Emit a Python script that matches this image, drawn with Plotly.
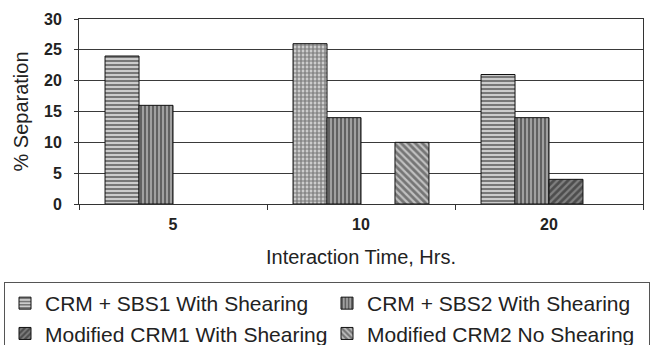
import plotly.graph_objects as go

categories = ["5", "10", "20"]
sbs1 = [24, 26, 21]
sbs2 = [16, 14, 14]
mod_crm1 = [None, None, 4]
mod_crm2 = [None, 10, None]
series_names = [
    "CRM + SBS1 With Shearing",
    "CRM + SBS2 With Shearing",
    "Modified CRM1 With Shearing",
    "Modified CRM2 No Shearing",
]
y_ticks = [0, 5, 10, 15, 20, 25, 30]

FONT = "Liberation Sans, Arial, sans-serif"

styles = [
    dict(shape=["-", "+", "-"], fg="#222222", bg="#cccccc", size=4, solidity=0.5),
    dict(shape="|", fg="#222222", bg="#a0a0a0", size=4, solidity=0.5),
    dict(shape="/", fg="#1a1a1a", bg="#808080", size=5, solidity=0.55),
    dict(shape="\\", fg="#2a2a2a", bg="#c0c0c0", size=5, solidity=0.55),
]

fig = go.Figure()
for name, vals, st in zip(series_names, [sbs1, sbs2, mod_crm1, mod_crm2], styles):
    fig.add_trace(go.Bar(
        x=categories, y=vals, name=name,
        marker=dict(
            color=st["bg"],
            line=dict(color="#111111", width=1),
            pattern=dict(shape=st["shape"], fgcolor=st["fg"], bgcolor=st["bg"],
                         size=st["size"], solidity=st["solidity"], fillmode="overlay"),
        ),
    ))

W, H = 652, 345
ML, MR, MT, MB = 79, 9, 19, 141
PW, PH = W - ML - MR, H - MT - MB

fig.update_layout(
    width=W, height=H,
    margin=dict(l=ML, r=MR, t=MT, b=MB, autoexpand=False),
    paper_bgcolor="white", plot_bgcolor="white",
    barmode="group", bargap=0.277, bargroupgap=0,
    font=dict(family=FONT, color="#222222"),
    xaxis=dict(
        type="category",
        showline=True, linecolor="#333333", linewidth=1, mirror=True,
        ticks="outside", tickson="boundaries", ticklen=5, tickcolor="#333333",
        ticklabelstandoff=6,
        tickfont=dict(size=16, family=FONT, weight="bold", color="#222222"),
        title=dict(text="Interaction Time, Hrs.", font=dict(size=20, family=FONT), standoff=17),
        showgrid=False,
    ),
    yaxis=dict(
        range=[0, 30], tickvals=y_ticks,
        showline=True, linecolor="#333333", linewidth=1, mirror=True,
        ticks="outside", ticklen=4, tickcolor="#333333",
        ticklabelstandoff=9,
        tickfont=dict(size=16, family=FONT, weight="bold", color="#222222"),
        showgrid=True, gridcolor="#3a3a3a", gridwidth=1.3,
        zeroline=False,
        title=dict(text="% Separation", font=dict(size=20, family=FONT), standoff=10),
    ),
    legend=dict(
        orientation="h",
        x=(4 - ML) / PW, y=-(282 - (MT + PH)) / PH, xanchor="left", yanchor="top",
        entrywidth=277, entrywidthmode="pixels",
        bordercolor="#555555", borderwidth=1,
        font=dict(size=21, family=FONT, color="#222222"),
        itemwidth=30,
        traceorder="normal",
    ),
)

fig.write_html("out.html")
